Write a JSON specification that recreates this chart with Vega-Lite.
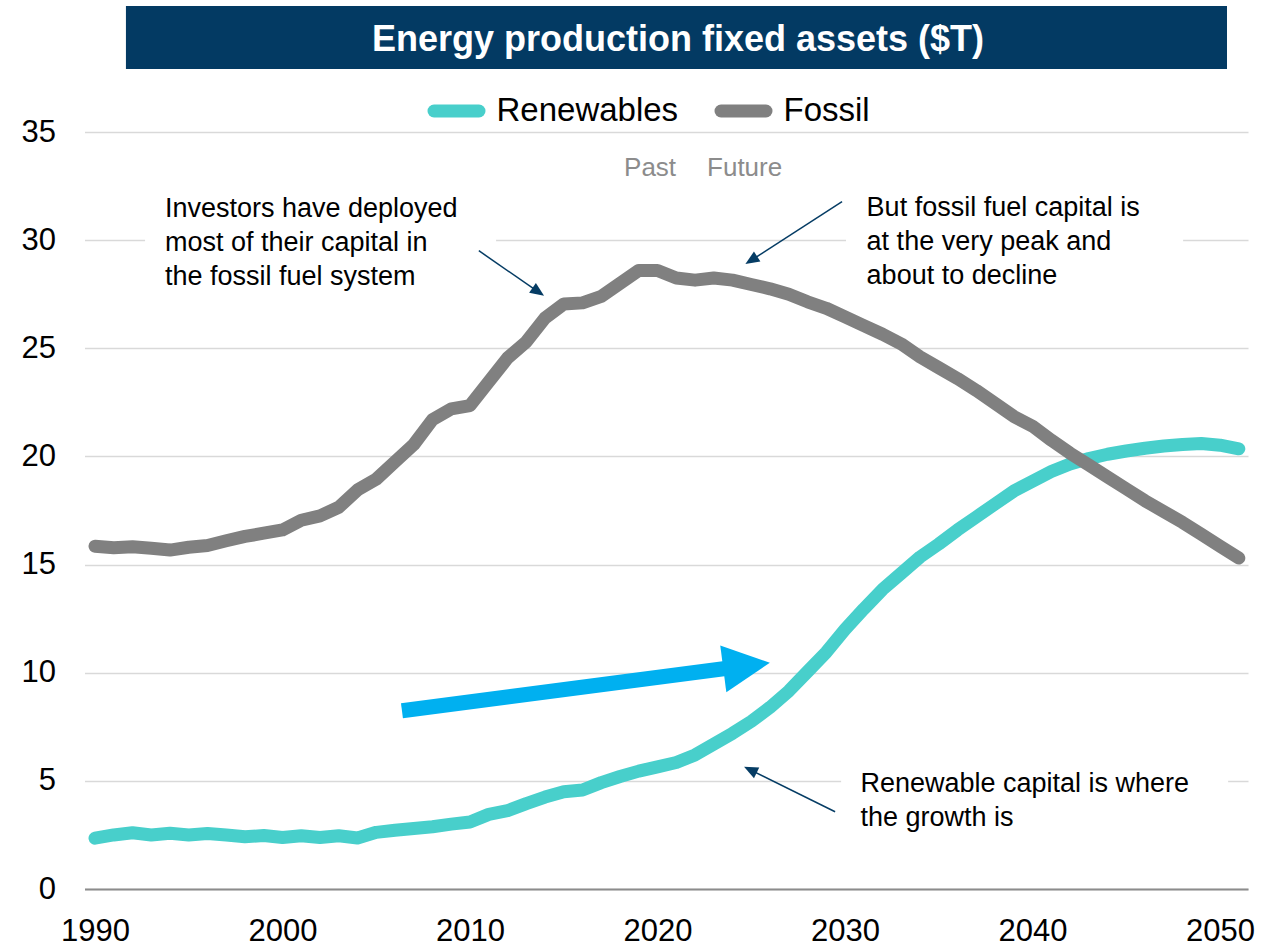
{
  "$schema": "https://vega.github.io/schema/vega-lite/v6.json",
  "width": 1163.5,
  "height": 757,
  "autosize": {"type": "none"},
  "padding": {"left": 84.5, "top": 132, "right": 31, "bottom": 58},
  "background": "white",
  "config": {
    "view": {"stroke": null},
    "font": "Liberation Sans"
  },
  "datasets": {
    "series": [
      {"year": 1990, "Fossil": 15.85, "Renewables": 2.35},
      {"year": 1991, "Fossil": 15.78, "Renewables": 2.5},
      {"year": 1992, "Fossil": 15.82, "Renewables": 2.6},
      {"year": 1993, "Fossil": 15.75, "Renewables": 2.5},
      {"year": 1994, "Fossil": 15.67, "Renewables": 2.58},
      {"year": 1995, "Fossil": 15.8, "Renewables": 2.5},
      {"year": 1996, "Fossil": 15.88, "Renewables": 2.57},
      {"year": 1997, "Fossil": 16.1, "Renewables": 2.5},
      {"year": 1998, "Fossil": 16.3, "Renewables": 2.42},
      {"year": 1999, "Fossil": 16.45, "Renewables": 2.47},
      {"year": 2000, "Fossil": 16.6, "Renewables": 2.38},
      {"year": 2001, "Fossil": 17.05, "Renewables": 2.46},
      {"year": 2002, "Fossil": 17.25, "Renewables": 2.38},
      {"year": 2003, "Fossil": 17.65, "Renewables": 2.46},
      {"year": 2004, "Fossil": 18.45, "Renewables": 2.36},
      {"year": 2005, "Fossil": 18.95, "Renewables": 2.62},
      {"year": 2006, "Fossil": 19.75, "Renewables": 2.72},
      {"year": 2007, "Fossil": 20.55, "Renewables": 2.8},
      {"year": 2008, "Fossil": 21.7, "Renewables": 2.88},
      {"year": 2009, "Fossil": 22.2, "Renewables": 3.0},
      {"year": 2010, "Fossil": 22.35, "Renewables": 3.1},
      {"year": 2011, "Fossil": 23.45, "Renewables": 3.45},
      {"year": 2012, "Fossil": 24.55, "Renewables": 3.62},
      {"year": 2013, "Fossil": 25.3, "Renewables": 3.95},
      {"year": 2014, "Fossil": 26.4, "Renewables": 4.25},
      {"year": 2015, "Fossil": 27.05, "Renewables": 4.5},
      {"year": 2016, "Fossil": 27.1, "Renewables": 4.58},
      {"year": 2017, "Fossil": 27.4, "Renewables": 4.92},
      {"year": 2018, "Fossil": 28.0, "Renewables": 5.2},
      {"year": 2019, "Fossil": 28.6, "Renewables": 5.45},
      {"year": 2020, "Fossil": 28.6, "Renewables": 5.65},
      {"year": 2021, "Fossil": 28.25, "Renewables": 5.85},
      {"year": 2022, "Fossil": 28.15, "Renewables": 6.2},
      {"year": 2023, "Fossil": 28.25, "Renewables": 6.7},
      {"year": 2024, "Fossil": 28.15, "Renewables": 7.2},
      {"year": 2025, "Fossil": 27.95, "Renewables": 7.75},
      {"year": 2026, "Fossil": 27.75, "Renewables": 8.4},
      {"year": 2027, "Fossil": 27.5, "Renewables": 9.15},
      {"year": 2028, "Fossil": 27.15, "Renewables": 10.05},
      {"year": 2029, "Fossil": 26.85, "Renewables": 10.95},
      {"year": 2030, "Fossil": 26.45, "Renewables": 12.0},
      {"year": 2031, "Fossil": 26.05, "Renewables": 12.95},
      {"year": 2032, "Fossil": 25.65, "Renewables": 13.85},
      {"year": 2033, "Fossil": 25.2, "Renewables": 14.6},
      {"year": 2034, "Fossil": 24.6, "Renewables": 15.35},
      {"year": 2035, "Fossil": 24.1, "Renewables": 15.95},
      {"year": 2036, "Fossil": 23.6, "Renewables": 16.6},
      {"year": 2037, "Fossil": 23.05, "Renewables": 17.2},
      {"year": 2038, "Fossil": 22.45, "Renewables": 17.8},
      {"year": 2039, "Fossil": 21.85, "Renewables": 18.4},
      {"year": 2040, "Fossil": 21.4, "Renewables": 18.85},
      {"year": 2041, "Fossil": 20.75, "Renewables": 19.3},
      {"year": 2042, "Fossil": 20.15, "Renewables": 19.65},
      {"year": 2043, "Fossil": 19.6, "Renewables": 19.9},
      {"year": 2044, "Fossil": 19.05, "Renewables": 20.1},
      {"year": 2045, "Fossil": 18.5, "Renewables": 20.25},
      {"year": 2046, "Fossil": 17.95, "Renewables": 20.38},
      {"year": 2047, "Fossil": 17.45, "Renewables": 20.48},
      {"year": 2048, "Fossil": 16.95, "Renewables": 20.55},
      {"year": 2049, "Fossil": 16.4, "Renewables": 20.6},
      {"year": 2050, "Fossil": 15.85, "Renewables": 20.52},
      {"year": 2051, "Fossil": 15.3, "Renewables": 20.35}
    ],
    "titlebar": [{"x1": 1991.65, "x2": 2050.37, "y1": 37.91, "y2": 40.82, "label": "Energy production fixed assets ($T)", "tx": 2021.09, "ty": 38.76}],
    "boxes": [
      {"x1": 1992.67, "x2": 2011.39, "y1": 28.5, "y2": 31.5},
      {"x1": 2030.05, "x2": 2048.03, "y1": 28.5, "y2": 31.5},
      {"x1": 2029.79, "x2": 2050.43, "y1": 4.3, "y2": 5.7}
    ],
    "bigarrow": [
      {"id": "a", "year": 2006.37, "value": 8.24},
      {"id": "a", "year": 2024.03, "value": 10.24}
    ],
    "bighead": [{"year": 2024.75, "value": 10.32, "angle": 352.57}],
    "pointers": [
      {"id": "p1", "year": 2010.47, "value": 29.51},
      {"id": "p1", "year": 2013.64, "value": 27.61},
      {"id": "p2", "year": 2029.84, "value": 31.78},
      {"id": "p2", "year": 2025.0, "value": 29.07},
      {"id": "p3", "year": 2029.47, "value": 3.57},
      {"id": "p3", "year": 2024.95, "value": 5.51}
    ],
    "heads": [
      {"year": 2013.64, "value": 27.61, "angle": 34.6},
      {"year": 2025.0, "value": 29.07, "angle": 147.2},
      {"year": 2024.95, "value": 5.51, "angle": 206.3}
    ],
    "notes": [
      {"year": 1993.73, "value": 31.08, "label": ["Investors  have deployed", "most of their capital in", "the  fossil fuel  system"]},
      {"year": 2031.15, "value": 31.1, "label": ["But fossil fuel  capital is", "at the very peak and", "about to decline"]},
      {"year": 2030.82, "value": 4.49, "label": ["Renewable  capital is where", "the  growth is"]}
    ],
    "past": [{"year": 2020.99, "value": 32.96, "label": "Past"}],
    "future": [{"year": 2022.64, "value": 32.96, "label": "Future"}]
  },
  "layer": [
    {
      "data": {"name": "titlebar"},
      "mark": {"type": "rect", "color": "#033A63", "clip": false},
      "encoding": {
        "x": {"field": "x1", "type": "quantitative", "scale": {"domain": [1989.44, 2051.49], "nice": false, "zero": false}, "axis": {"values": [1990, 2000, 2010, 2020, 2030, 2040, 2050], "format": "d", "title": null, "grid": false, "ticks": false, "tickSize": 0, "labelPadding": 27, "labelFont": "Liberation Sans", "labelFontSize": 31, "labelColor": "#000000", "domainColor": "#8C8C8C", "domainWidth": 2, "labelFlush": false}},
        "x2": {"field": "x2"},
        "y": {"field": "y1", "type": "quantitative", "scale": {"domain": [0, 35], "nice": false, "zero": true}, "axis": {"values": [0, 5, 10, 15, 20, 25, 30, 35], "title": null, "grid": true, "gridColor": "#D9D9D9", "gridWidth": 1.5, "domain": false, "ticks": false, "tickSize": 0, "labelPadding": 29, "labelFont": "Liberation Sans", "labelFontSize": 31, "labelColor": "#000000"}},
        "y2": {"field": "y2"}
      }
    },
    {
      "data": {"name": "titlebar"},
      "mark": {"type": "text", "color": "white", "font": "Liberation Sans", "fontWeight": "bold", "fontSize": 36, "align": "center", "baseline": "alphabetic", "clip": false},
      "encoding": {
        "x": {"field": "tx", "type": "quantitative"},
        "y": {"field": "ty", "type": "quantitative"},
        "text": {"field": "label"}
      }
    },
    {
      "data": {"name": "boxes"},
      "mark": {"type": "rect", "color": "white"},
      "encoding": {
        "x": {"field": "x1", "type": "quantitative"},
        "x2": {"field": "x2"},
        "y": {"field": "y1", "type": "quantitative"},
        "y2": {"field": "y2"}
      }
    },
    {
      "data": {"name": "series"},
      "transform": [{"fold": ["Renewables", "Fossil"], "as": ["series", "value"]}],
      "mark": {"type": "line", "strokeWidth": 13, "strokeCap": "round", "strokeJoin": "round", "clip": false},
      "encoding": {
        "x": {"field": "year", "type": "quantitative"},
        "y": {"field": "value", "type": "quantitative"},
        "color": {
          "field": "series", "type": "nominal",
          "scale": {"domain": ["Renewables", "Fossil"], "range": ["#48CFCB", "#808080"]},
          "legend": {
            "orient": "none", "legendX": 343, "legendY": -50, "direction": "horizontal",
            "title": null, "symbolType": "stroke", "symbolSize": 2025, "symbolStrokeWidth": 13,
            "labelFont": "Liberation Sans", "labelFontSize": 33, "labelColor": "#000000",
            "labelOffset": 11, "columnPadding": 16, "padding": 0, "labelLimit": 500,
            "encode": {"symbols": {"update": {"strokeCap": {"value": "round"}}}}
          }
        }
      }
    },
    {
      "data": {"name": "bigarrow"},
      "mark": {"type": "line", "strokeWidth": 15, "strokeCap": "butt", "color": "#00B0F0"},
      "encoding": {
        "x": {"field": "year", "type": "quantitative"},
        "y": {"field": "value", "type": "quantitative"},
        "detail": {"field": "id"}
      }
    },
    {
      "data": {"name": "bighead"},
      "mark": {"type": "point", "shape": "M1,0L-1,-1L-1,1Z", "filled": true, "opacity": 1, "color": "#00B0F0", "size": 2209, "strokeWidth": 0},
      "encoding": {
        "x": {"field": "year", "type": "quantitative"},
        "y": {"field": "value", "type": "quantitative"},
        "angle": {"field": "angle", "type": "quantitative", "scale": null}
      }
    },
    {
      "data": {"name": "pointers"},
      "mark": {"type": "line", "strokeWidth": 1.5, "color": "#053C64"},
      "encoding": {
        "x": {"field": "year", "type": "quantitative"},
        "y": {"field": "value", "type": "quantitative"},
        "detail": {"field": "id"}
      }
    },
    {
      "data": {"name": "heads"},
      "mark": {"type": "point", "shape": "M1,0L-1,-0.85L-1,0.85Z", "filled": true, "opacity": 1, "color": "#053C64", "size": 196, "strokeWidth": 0},
      "encoding": {
        "x": {"field": "year", "type": "quantitative"},
        "y": {"field": "value", "type": "quantitative"},
        "angle": {"field": "angle", "type": "quantitative", "scale": null}
      }
    },
    {
      "data": {"name": "notes"},
      "mark": {"type": "text", "font": "Liberation Sans", "fontSize": 27, "align": "left", "baseline": "alphabetic", "lineHeight": 34, "color": "#000000"},
      "encoding": {
        "x": {"field": "year", "type": "quantitative"},
        "y": {"field": "value", "type": "quantitative"},
        "text": {"field": "label"}
      }
    },
    {
      "data": {"name": "past"},
      "mark": {"type": "text", "font": "Liberation Sans", "fontSize": 26, "baseline": "alphabetic", "align": "right", "color": "#8C8C8C"},
      "encoding": {
        "x": {"field": "year", "type": "quantitative"},
        "y": {"field": "value", "type": "quantitative"},
        "text": {"field": "label"}
      }
    },
    {
      "data": {"name": "future"},
      "mark": {"type": "text", "font": "Liberation Sans", "fontSize": 26, "baseline": "alphabetic", "align": "left", "color": "#8C8C8C"},
      "encoding": {
        "x": {"field": "year", "type": "quantitative"},
        "y": {"field": "value", "type": "quantitative"},
        "text": {"field": "label"}
      }
    }
  ]
}
